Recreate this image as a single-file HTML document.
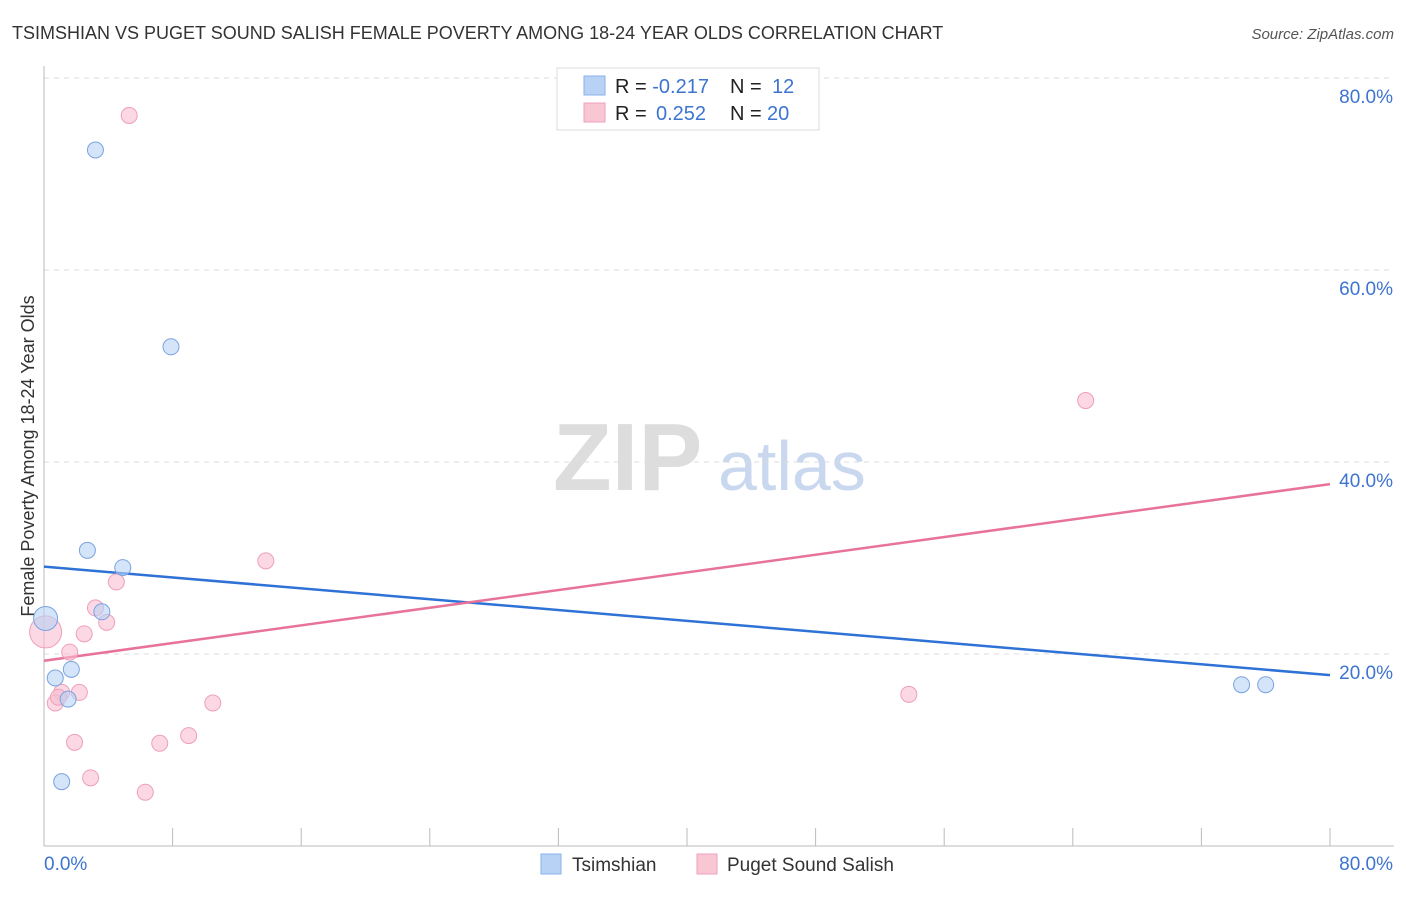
<!DOCTYPE html>
<html><head><meta charset="utf-8"><style>
body{margin:0;background:#fff;font-family:"Liberation Sans",sans-serif;}
svg text{font-family:"Liberation Sans",sans-serif;}
</style></head><body>
<svg id="chart" width="1406" height="892">
<text x="12" y="39" font-size="18" fill="#333">TSIMSHIAN VS PUGET SOUND SALISH FEMALE POVERTY AMONG 18-24 YEAR OLDS CORRELATION CHART</text>
<text x="1394" y="39" font-size="15" fill="#555" font-style="italic" text-anchor="end">Source: ZipAtlas.com</text>
<text x="0" y="0" transform="translate(34,456) rotate(-90)" font-size="18" fill="#333" text-anchor="middle">Female Poverty Among 18-24 Year Olds</text>
<g><text x="553" y="490" font-size="96" font-family="Liberation Serif" fill="#ddd" font-weight="bold">ZIP</text><text x="718" y="490" font-size="70" fill="#c9d8ee">atlas</text></g>
<g id="grid"></g><g id="axes"></g><g id="lines"></g><g id="pts"></g>
<g>
<rect x="557" y="68" width="262" height="62" fill="#fff" stroke="#ddd"/>
<rect x="584" y="76" width="21" height="19" fill="#b8d2f5" stroke="#8ab0e8"/>
<rect x="584" y="103" width="21" height="19" fill="#f9c6d4" stroke="#eea0b8"/>
<text x="615" y="93" font-size="20" fill="#222">R = <tspan fill="#3d74d0">-0.217</tspan><tspan x="730">N = </tspan><tspan x="772" fill="#3d74d0">12</tspan></text>
<text x="615" y="120" font-size="20" fill="#222">R = <tspan x="656" fill="#3d74d0">0.252</tspan><tspan x="730">N = </tspan><tspan x="767" fill="#3d74d0">20</tspan></text>
</g>
<g>
<rect x="541" y="854" width="20" height="20" fill="#b8d2f5" stroke="#8ab0e8"/>
<text x="572" y="871" font-size="19" fill="#333">Tsimshian</text>
<rect x="697" y="854" width="20" height="20" fill="#f9c6d4" stroke="#eea0b8"/>
<text x="727" y="871" font-size="19" fill="#333">Puget Sound Salish</text>
</g>
</svg>
<script>
const yTicks=[20,40,60,80];
const tsX=[3.2,7.9,2.7,4.9,3.6,0.1,0.7,1.7,1.5,1.1,74.5,76.0];
const tsY=[72.5,52.0,30.8,29.0,24.4,23.7,17.5,18.4,15.3,6.7,16.8,16.8];
const tsR=[8,8,8,8,8,12,8,8,8,8,8,8];
const psX=[5.3,64.8,13.8,4.5,3.2,3.9,2.5,0.1,1.6,1.1,2.2,0.7,10.5,53.8,1.9,7.2,9.0,2.9,6.3,0.9];
const psY=[76.1,46.4,29.7,27.5,24.8,23.3,22.1,22.3,20.2,16.0,16.0,14.9,14.9,15.8,10.8,10.7,11.5,7.1,5.6,15.5];
const psR=[8,8,8,8,8,8,8,16,8,8,8,8,8,8,8,8,8,8,8,8];
const tsLine=[29.1,17.8];
const psLine=[19.3,37.7];
const X=v=>44+v*(1330-44)/80, Y=v=>846-v*9.6;
const NS="http://www.w3.org/2000/svg";
function mk(p,t,a){const e=document.createElementNS(NS,t);for(const k in a)e.setAttribute(k,a[k]);document.getElementById(p).appendChild(e);return e;}
yTicks.forEach(t=>{
 const g=mk('grid','line',{x1:44,x2:1394,y1:Y(t),y2:Y(t),stroke:'#ddd','stroke-dasharray':'5,5'});
 
 
 const l=mk('axes','text',{x:1393,y:Y(t)+25,'font-size':19,fill:'#3d74d0','text-anchor':'end'});l.textContent=t.toFixed(1)+'%';
 
 
});
mk('axes','line',{x1:44,x2:44,y1:66,y2:846,stroke:'#bbb'});
mk('axes','line',{x1:44,x2:1394,y1:846,y2:846,stroke:'#bbb'});
for(let i=0;i<=10;i++){const x=X(i*8);mk('axes','line',{x1:x,x2:x,y1:828,y2:846,stroke:'#bbb'});}
let a=mk('axes','text',{x:44,y:870,'font-size':19,fill:'#3d74d0'});a.textContent='0.0%';


a=mk('axes','text',{x:1393,y:870,'font-size':19,fill:'#3d74d0','text-anchor':'end'});a.textContent='80.0%';


let ln=mk('lines','line',{x1:X(0),x2:X(80),y1:Y(tsLine[0]),y2:Y(tsLine[1]),stroke:'#2f72d6','stroke-width':2.5});


ln=mk('lines','line',{x1:X(0),x2:X(80),y1:Y(psLine[0]),y2:Y(psLine[1]),stroke:'#e8739a','stroke-width':2.5});


psX.forEach((v,i)=>{const c=mk('pts','circle',{cx:X(v),cy:Y(psY[i]),r:psR[i],fill:'rgba(249,190,208,0.6)',stroke:'#eea0b8','stroke-width':1});
 
 });
tsX.forEach((v,i)=>{const c=mk('pts','circle',{cx:X(v),cy:Y(tsY[i]),r:tsR[i],fill:'rgba(184,210,245,0.6)',stroke:'#7aa3e0','stroke-width':1});
 
 });
</script>
</body></html>
